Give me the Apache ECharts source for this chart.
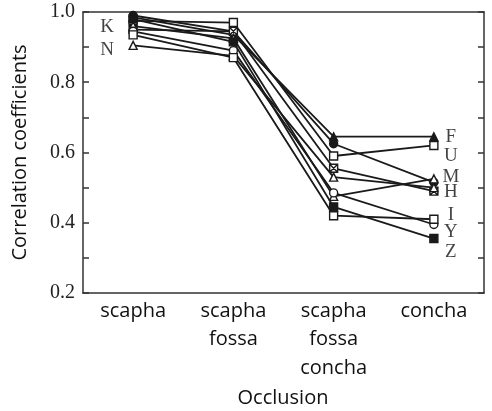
<!DOCTYPE html>
<html>
<head>
<meta charset="utf-8">
<script src="https://cdn.jsdelivr.net/npm/echarts@6/dist/echarts.min.js"></script>
<style>
  html, body { margin: 0; padding: 0; background: #fff; }
  #chart { width: 492px; height: 411px; }
</style>
</head>
<body>
<div id="chart"></div>
<script>
// Occlusion conditions along the x axis
const categories = ['scapha', 'scapha\nfossa', 'scapha\nfossa\nconcha', 'concha'];

// Correlation coefficient per subject, one value per occlusion condition
const seriesF = [0.985, 0.935, 0.645, 0.645];
const seriesK = [0.990, 0.945, 0.625, 0.515];
const seriesU = [0.975, 0.970, 0.590, 0.620];
const seriesH = [0.950, 0.945, 0.555, 0.490];
const seriesN = [0.905, 0.875, 0.530, 0.500];
const seriesM = [0.960, 0.925, 0.475, 0.525];
const seriesY = [0.945, 0.890, 0.485, 0.395];
const seriesZ = [0.980, 0.915, 0.445, 0.355];
const seriesI = [0.935, 0.870, 0.420, 0.410];

// Subject tags written beside the lines
const rightTags = ['F', 'U', 'M', 'H', 'I', 'Y', 'Z'];
const rightTagY = [0.643, 0.589, 0.529, 0.487, 0.423, 0.374, 0.317];
const leftTags = ['K', 'N'];
const leftTagY = [0.958, 0.893];

const yTicks = [0.2, 0.4, 0.6, 0.8, 1.0];

const ink = '#1a1a1a';
const crossBox = 'path://M0,0L10,0L10,10L0,10Z M0,0L10,10 M10,0L0,10';

function line(name, data, symbol, filled) {
  return {
    name: name,
    type: 'line',
    data: data,
    symbol: symbol,
    symbolSize: 8,
    showAllSymbol: true,
    lineStyle: { color: ink, width: 1.8 },
    itemStyle: {
      color: filled ? ink : '#fff',
      borderColor: ink,
      borderWidth: 1.4
    },
    z: 3
  };
}

function tagSeries(tags, ys, cat, dx) {
  return {
    type: 'scatter',
    silent: true,
    symbolSize: 0,
    data: tags.map((t, i) => ({ value: [cat, ys[i]], name: t })),
    label: {
      show: true,
      position: 'inside',
      offset: [dx, 0],
      formatter: p => p.name,
      fontFamily: 'Liberation Serif',
      fontSize: 19,
      color: '#111'
    },
    z: 5
  };
}

const chart = echarts.init(document.getElementById('chart'), null, { renderer: 'canvas' });

const axisLineStyle = { color: '#333', width: 1.5 };

chart.setOption({
  animation: false,
  backgroundColor: '#fff',
  // x-axis title, centred under the plot
  title: {
    text: 'Occlusion',
    left: 283,
    textAlign: 'center',
    top: 388,
    padding: 0,
    textStyle: { fontFamily: 'Open Sans', fontSize: 20, fontWeight: 'normal', color: '#111' }
  },
  grid: { left: 83, right: 8, top: 12, bottom: 118, containLabel: false },
  xAxis: [
    {
      type: 'category',
      data: categories,
      boundaryGap: true,
      axisLine: { lineStyle: axisLineStyle },
      axisTick: { inside: true, alignWithLabel: true, length: 6, lineStyle: axisLineStyle },
      axisLabel: {
        fontFamily: 'Open Sans',
        fontSize: 20,
        color: '#111',
        lineHeight: 28.5,
        margin: 4,
        verticalAlign: 'top'
      }
    },
    {
      type: 'category',
      data: categories,
      position: 'top',
      boundaryGap: true,
      axisLine: { lineStyle: axisLineStyle },
      axisTick: { inside: true, alignWithLabel: true, length: 6, lineStyle: axisLineStyle },
      axisLabel: { show: false }
    }
  ],
  yAxis: [
    {
      type: 'value',
      min: 0.2,
      max: 1.0,
      interval: 0.1,
      axisLine: { show: true, lineStyle: axisLineStyle },
      axisTick: { show: true, inside: true, length: 6, lineStyle: axisLineStyle },
      splitLine: { show: false },
      axisLabel: {
        fontFamily: 'Liberation Serif',
        fontSize: 20,
        color: '#222',
        margin: 8,
        formatter: v => {
          const hit = yTicks.find(t => Math.abs(t - v) < 1e-6);
          return hit === undefined ? '' : hit.toFixed(1);
        }
      },
      name: 'Correlation coefficients',
      nameLocation: 'middle',
      nameGap: 53,
      nameRotate: 90,
      nameTextStyle: { fontFamily: 'Open Sans', fontSize: 20, color: '#111' }
    },
    {
      type: 'value',
      position: 'right',
      min: 0.2,
      max: 1.0,
      interval: 0.1,
      axisLine: { show: true, lineStyle: axisLineStyle },
      axisTick: { show: true, inside: true, length: 6, lineStyle: axisLineStyle },
      splitLine: { show: false },
      axisLabel: { show: false }
    }
  ],
  series: [
    line('F', seriesF, 'triangle', true),
    line('K', seriesK, 'circle', true),
    line('U', seriesU, 'rect', false),
    line('H', seriesH, crossBox, false),
    line('N', seriesN, 'triangle', false),
    line('M', seriesM, 'triangle', false),
    line('Y', seriesY, 'circle', false),
    line('Z', seriesZ, 'rect', true),
    line('I', seriesI, 'rect', false),
    tagSeries(rightTags, rightTagY, categories[3], 17),
    tagSeries(leftTags, leftTagY, categories[0], -26)
  ]
});
</script>
</body>
</html>
